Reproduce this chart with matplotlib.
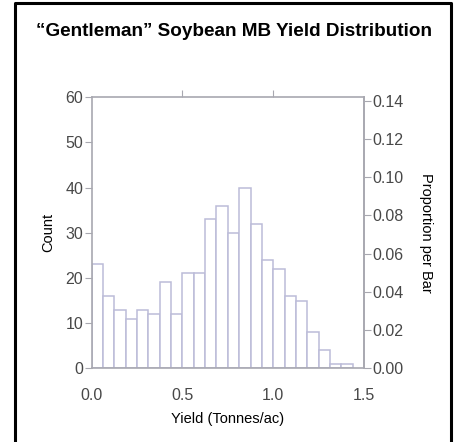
import numpy as np
import matplotlib
matplotlib.use("Agg")
import matplotlib.pyplot as plt
from matplotlib.lines import Line2D

# ─── Datos ────────────────────────────────────────────────────────────────────
bin_width = 0.0625
bin_starts = [i * bin_width for i in range(23)]
counts = [23, 16, 13, 11, 13, 12, 19, 12, 21, 21,
          33, 36, 30, 40, 32, 24, 22, 16, 15, 8, 4, 1, 1]
x_ticks = [0.0, 0.5, 1.0, 1.5]
x_tick_labels = ["0.0", "0.5", "1.0", "1.5"]
count_ticks = [0, 10, 20, 30, 40, 50, 60]
prop_ticks = [0.00, 0.02, 0.04, 0.06, 0.08, 0.10, 0.12, 0.14]

title = "\u201cGentleman\u201d Soybean MB Yield Distribution"

plt.rcParams['font.family'] = ['Liberation Sans', 'DejaVu Sans']

axis_col = '#a8a8b0'
bar_col = '#bcbcd8'
tick_txt = '#484848'

fig = plt.figure(figsize=(4.6, 4.42), dpi=100)
ax = fig.add_axes([0.1993, 0.1667, 0.592, 0.6132])

ax.bar(bin_starts, counts, width=bin_width, align='edge',
       facecolor='white', edgecolor=bar_col, linewidth=1.1)

ax.set_xlim(0, 1.5)
ax.set_ylim(0, 60)
ax.set_xticks(x_ticks)
ax.set_xticklabels(x_tick_labels)
ax.set_yticks(count_ticks)
ax.set_ylabel("Count", fontsize=10.5, labelpad=7)
ax.set_xlabel("Yield (Tonnes/ac)", fontsize=10.5, labelpad=7)

for s in ax.spines.values():
    s.set_color(axis_col)
    s.set_linewidth(1.2)

ax.tick_params(axis='y', direction='out', length=5, color=axis_col,
               labelsize=11.5, labelcolor=tick_txt, pad=1)
ax.tick_params(axis='x', direction='out', length=0, labelsize=11.5,
               labelcolor=tick_txt, pad=14, top=True)

# ticks superiores
ax_top = ax.secondary_xaxis('top')
ax_top.set_xticks([0.5, 1.0])
ax_top.tick_params(direction='out', length=5, color=axis_col, labelsize=0,
                   labeltop=False)
ax_top.spines['top'].set_visible(False)

# eje derecho: proporción
total = sum(counts)
ax2 = ax.twinx()
ax2.set_ylim(0, 60 / total)
ax2.set_yticks(prop_ticks)
ax2.set_yticklabels([f"{v:.2f}" for v in prop_ticks])
ax2.tick_params(axis='y', direction='out', length=5, color=axis_col,
                labelsize=11.5, labelcolor=tick_txt, pad=1)
for s in ax2.spines.values():
    s.set_visible(False)
ax2.spines['right'].set_visible(True)
ax2.spines['right'].set_color(axis_col)
ax2.spines['right'].set_linewidth(1.2)
ax2.set_ylabel("Proportion per Bar", fontsize=10.5, rotation=270, labelpad=21)

fig.text(0.508, 0.929, title, ha='center', va='center',
         fontsize=13.6, fontweight='bold')

# marco exterior (sin borde inferior)
x0, x1, y0, y1 = 15.5 / 460, 451.5 / 460, 0.0, 1 - 3.0 / 442
fig.add_artist(Line2D([x0, x0, x1, x1], [y0, y1, y1, y0],
                      transform=fig.transFigure, color='black', linewidth=2.2))

fig.savefig("out.png", dpi=100)
